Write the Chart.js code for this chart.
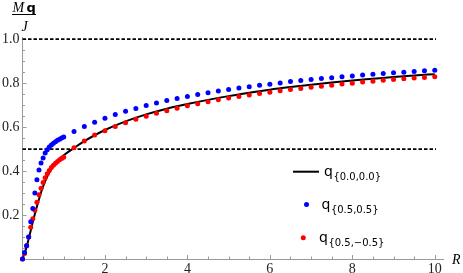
<!DOCTYPE html>
<html>
<head>
<meta charset="utf-8">
<script src="https://cdn.jsdelivr.net/npm/chart.js@4.4.1/dist/chart.umd.min.js"></script>
<style>
  html, body { margin: 0; padding: 0; background: #fff; }
</style>
</head>
<body>
<canvas id="c" width="463" height="273"></canvas>
<script>
'use strict';
// ---------- Data ----------

// sample radii shared by both dotted series
const pointR = [
    0, 0.05, 0.1, 0.15, 0.2, 0.25, 0.3, 0.35, 0.4, 0.45, 0.5,
    0.55, 0.6, 0.65, 0.7, 0.75, 0.8, 0.85, 0.9, 0.95, 1.0,
    1.25, 1.5, 1.75, 2, 2.25, 2.5, 2.75, 3, 3.25, 3.5, 3.75, 4,
    4.25, 4.5, 4.75, 5, 5.25, 5.5, 5.75, 6, 6.25, 6.5, 6.75, 7,
    7.25, 7.5, 7.75, 8, 8.25, 8.5, 8.75, 9, 9.25, 9.5, 9.75, 10,
];

// q{0.5,0.5}
const bluePoints = [
    0, 0.03, 0.06, 0.10, 0.17, 0.23, 0.30, 0.36, 0.405, 0.437, 0.46,
    0.482, 0.497, 0.509, 0.519, 0.527, 0.534, 0.54, 0.545, 0.55, 0.555,
    0.58, 0.603, 0.622, 0.64, 0.657, 0.672, 0.685, 0.698, 0.71, 0.721, 0.73, 0.739,
    0.748, 0.756, 0.764, 0.771, 0.778, 0.784, 0.79, 0.795, 0.801, 0.807, 0.812, 0.817,
    0.821, 0.825, 0.829, 0.833, 0.837, 0.841, 0.844, 0.847, 0.85, 0.853, 0.856, 0.859,
];

// q{0.5,-0.5}
const redPoints = [
    0, 0.025, 0.06, 0.10, 0.145, 0.183, 0.222, 0.258, 0.292, 0.322, 0.348,
    0.37, 0.388, 0.403, 0.416, 0.427, 0.436, 0.444, 0.451, 0.457, 0.463,
    0.506, 0.537, 0.564, 0.584, 0.603, 0.62, 0.636, 0.65, 0.663, 0.675, 0.686, 0.697,
    0.706, 0.715, 0.724, 0.732, 0.739, 0.746, 0.753, 0.759, 0.765, 0.771, 0.776, 0.781,
    0.786, 0.791, 0.796, 0.80, 0.805, 0.809, 0.813, 0.817, 0.82, 0.823, 0.826, 0.829,
];

// q{0.0,0.0} (solid curve)
const lineR = [
    0, 0.1, 0.2, 0.3, 0.4, 0.5, 0.6, 0.7, 0.8, 0.9, 1.0,
    1.25, 1.5, 1.75, 2, 2.5, 3, 3.5, 4, 4.5, 5, 5.5, 6, 6.5, 7, 7.5, 8, 8.5, 9, 9.5, 10,
];
const lineValues = [
    0, 0.055, 0.13, 0.205, 0.272, 0.33, 0.375, 0.41, 0.436, 0.456, 0.472,
    0.505, 0.536, 0.563, 0.587, 0.626, 0.658, 0.684, 0.705, 0.724, 0.741, 0.756, 0.77,
    0.782, 0.793, 0.803, 0.812, 0.82, 0.828, 0.835, 0.841,
];

// dashed reference levels
const refLevels = [1.0, 0.5];
const refSpan   = [0, 10.03];

// ticks
const xTicks = [2, 4, 6, 8, 10];
const yTicks = [0.2, 0.4, 0.6, 0.8, 1.0];
const xMinor = [0.5, 1, 1.5, 2, 2.5, 3, 3.5, 4, 4.5, 5, 5.5, 6, 6.5, 7, 7.5, 8, 8.5, 9, 9.5, 10];
const yMinor = [0.05, 0.1, 0.15, 0.2, 0.25, 0.3, 0.35, 0.4, 0.45, 0.5,
                0.55, 0.6, 0.65, 0.7, 0.75, 0.8, 0.85, 0.9, 0.95, 1.0];

const legendItems = [
    { sub: '{0.0,0.0}',  kind: 'line',  color: '#000' },
    { sub: '{0.5,0.5}',  kind: 'point', color: '#0000ff' },
    { sub: '{0.5,\u22120.5}', kind: 'point', color: '#ff0000' },
];

// ---------- helpers ----------
const toXY = (xs, ys) => xs.map((x, i) => ({ x, y: ys[i] }));
const AXIS_GRAY = '#9a9a9a';
const SERIF = '"Liberation Serif", "DejaVu Serif", serif';
const SANS  = '"DejaVu Sans", sans-serif';

// inner tick marks (Mathematica style, pointing into the plot)
const innerTicks = {
    id: 'innerTicks',
    beforeDatasetsDraw(chart) {
        const { ctx, scales: { x, y } } = chart;
        ctx.save();
        ctx.strokeStyle = AXIS_GRAY;
        ctx.lineWidth = 1;
        ctx.beginPath();
        xMinor.forEach(v => {
            const px = Math.round(x.getPixelForValue(v)) + 0.5;
            const len = xTicks.includes(v) ? 4 : 2.5;
            ctx.moveTo(px, y.bottom);
            ctx.lineTo(px, y.bottom - len);
        });
        yMinor.forEach(v => {
            const py = Math.round(y.getPixelForValue(v)) + 0.5;
            const len = yTicks.some(t => Math.abs(t - v) < 1e-9) ? 4 : 2.5;
            ctx.moveTo(x.left, py);
            ctx.lineTo(x.left + len, py);
        });
        ctx.stroke();
        ctx.restore();
    },
};

// axis titles + legend
const annotations = {
    id: 'annotations',
    afterDraw(chart) {
        const { ctx } = chart;
        ctx.save();
        ctx.fillStyle = '#000';
        ctx.textBaseline = 'alphabetic';

        // y title: (M q) / J
        ctx.font = 'italic 14px ' + SERIF;
        ctx.fillText('M', 12.5, 11.5);
        ctx.font = 'bold 13px ' + SANS;
        ctx.fillText('q', 26.5, 11.5);
        ctx.fillRect(12, 14, 24, 1);
        ctx.font = 'italic 14px ' + SERIF;
        ctx.textAlign = 'center';
        ctx.fillText('J', 24.5, 31);

        // x title
        ctx.textAlign = 'left';
        ctx.font = 'italic 14px ' + SERIF;
        ctx.fillText('R', 452, 264);

        // legend
        const rows = [
            { y: 171.7, mark: 306, text: 324 },
            { y: 204.5, mark: 306.5, text: 321.5 },
            { y: 237.7, mark: 303.3, text: 319 },
        ];
        legendItems.forEach((it, i) => {
            const r = rows[i];
            if (it.kind === 'line') {
                ctx.strokeStyle = it.color;
                ctx.lineWidth = 2;
                ctx.beginPath();
                ctx.moveTo(293, r.y);
                ctx.lineTo(319, r.y);
                ctx.stroke();
            } else {
                ctx.fillStyle = it.color;
                ctx.beginPath();
                ctx.arc(r.mark, r.y, 2.5, 0, Math.PI * 2);
                ctx.fill();
            }
            ctx.fillStyle = '#000';
            ctx.font = '14px ' + SANS;
            ctx.fillText('q', r.text, r.y + 4);
            const w = ctx.measureText('q').width;
            ctx.font = '10px ' + SANS;
            ctx.fillText(it.sub, r.text + w + 0.5, r.y + 8.5);
        });
        ctx.restore();
    },
};

const pointStyle = color => ({
    type: 'scatter',
    showLine: false,
    pointRadius: 2.5,
    pointHoverRadius: 2.5,
    pointBorderWidth: 0,
    pointBackgroundColor: color,
    borderColor: color,
    backgroundColor: color,
});

new Chart(document.getElementById('c'), {
    type: 'line',
    data: {
        datasets: [
            { label: 'q{0.5,0.5}',  data: toXY(pointR, bluePoints), ...pointStyle('#0000ff') },
            { label: 'q{0.5,-0.5}', data: toXY(pointR, redPoints),  ...pointStyle('#ff0000') },
            {
                label: 'q{0.0,0.0}',
                data: toXY(lineR, lineValues),
                borderColor: '#000',
                borderWidth: 2,
                pointRadius: 0,
                fill: false,
                cubicInterpolationMode: 'monotone',
            },
            ...refLevels.map(level => ({
                label: 'level ' + level,
                data: toXY(refSpan, refSpan.map(() => level)),
                borderColor: '#000',
                borderWidth: 1.8,
                borderDash: [3.5, 2],
                pointRadius: 0,
                fill: false,
            })),
        ],
    },
    options: {
        responsive: false,
        animation: false,
        events: [],
        clip: false,
        layout: { padding: { top: 37, right: 20, left: 0, bottom: 0 } },
        plugins: {
            legend:  { display: false },
            tooltip: { enabled: false },
        },
        scales: {
            x: {
                type: 'linear',
                min: 0,
                max: 10.2,
                grid: { display: false, drawTicks: false },
                border: { display: true, color: AXIS_GRAY, width: 1 },
                afterBuildTicks: s => { s.ticks = xTicks.map(v => ({ value: v })); },
                afterFit: s => { s.height = 14; },
                ticks: {
                    autoSkip: false,
                    maxRotation: 0,
                    padding: 2,
                    color: '#222',
                    font: { family: SERIF, size: 14 },
                    callback: v => String(v),
                },
            },
            y: {
                type: 'linear',
                min: 0,
                max: 1.01,
                grid: { display: false, drawTicks: false },
                border: { display: true, color: AXIS_GRAY, width: 1 },
                afterBuildTicks: s => { s.ticks = yTicks.map(v => ({ value: v })); },
                afterFit: s => { s.width = 22.5; },
                ticks: {
                    autoSkip: false,
                    padding: 3,
                    color: '#222',
                    font: { family: SERIF, size: 14 },
                    callback: v => v.toFixed(1),
                },
            },
        },
    },
    plugins: [innerTicks, annotations],
});
</script>
</body>
</html>
